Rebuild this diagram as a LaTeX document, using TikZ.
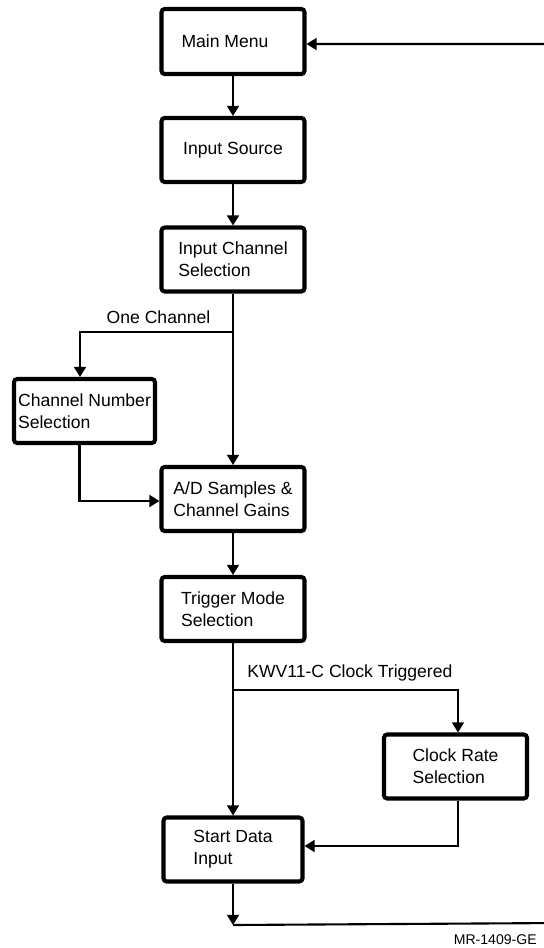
\documentclass[tikz,border=0pt]{standalone}
\usepackage{fontspec}
\setmainfont{Liberation Sans}
\usetikzlibrary{arrows.meta,calc}
\begin{document}
\begin{tikzpicture}[x=0.02cm,y=-0.02cm,
  box/.style={draw, line width=2.3pt, rounded corners=1.8pt, align=left, inner sep=0pt,
              minimum height=1.28cm, font=\fontsize{10}{12.5}\selectfont},
  conn/.style={line width=1.2pt},
  arr/.style={conn, -{Triangle[length=5.8pt,width=6.8pt]}},
  lbl/.style={font=\fontsize{10}{12}\selectfont, inner sep=0pt}]
\useasboundingbox (0,0) rectangle (544,948);
\clip (0,0) rectangle (544,948);

% boxes
\node[box, minimum width=2.86cm, minimum height=1.30cm] (mainmenu) at (233,41.5) {Main Menu\hspace{0.32cm}};
\node[box, minimum width=2.86cm] (inputsrc) at (233,150) {Input Source};
\node[box, minimum width=2.86cm] (inputch) at (233,259.5) {Input Channel\\Selection};
\node[box, minimum width=2.82cm] (chnum) at (84.5,411) {Channel Number\\Selection};
\node[box, minimum width=2.86cm] (adsamp) at (233,499) {A/D Samples \&\\Channel Gains};
\node[box, minimum width=2.86cm] (trig) at (233,609) {Trigger Mode\\Selection};
\node[box, minimum width=2.86cm] (clock) at (455.5,766.5) {Clock Rate\\Selection};
\node[box, minimum width=2.78cm] (start) at (233,849.5) {Start Data\\Input};

% labels
\node[lbl] (onech) at (158.5,317) {One Channel};
\node[lbl, anchor=west] (kwv) at (247,673) {KWV11-C Clock Triggered};
\node[lbl, font=\fontsize{8}{9.6}\selectfont, anchor=east] (mr) at (537,940) {MR-1409-GE};

% branch points
\coordinate (split1) at (233,332);
\coordinate (split2) at (233,690);
\coordinate (bot) at (233,925);
\coordinate (br) at (560,923);
\coordinate (tr) at (560,44);

% connectors
\draw[arr] (mainmenu.south) -- (inputsrc.north);
\draw[arr] (inputsrc.south) -- (inputch.north);
\draw[arr] (inputch.south) -- (adsamp.north);
\draw[arr] (split1) -| ([xshift=-0.09cm]chnum.north);
\draw[arr] ([xshift=-0.1cm]chnum.south) |- ([yshift=-0.04cm]adsamp.west);
\draw[arr] (adsamp.south) -- (trig.north);
\draw[arr] (trig.south) -- (start.north);
\draw[arr] (split2) -| ([xshift=0.05cm]clock.north);
\draw[arr] ([xshift=0.05cm]clock.south) |- ([yshift=0.07cm]start.east);
\draw[arr] (start.south) -- (bot);
\draw[arr] (bot) -- (br) -- (tr) -- ([yshift=-0.05cm]mainmenu.east);
\end{tikzpicture}
\end{document}
